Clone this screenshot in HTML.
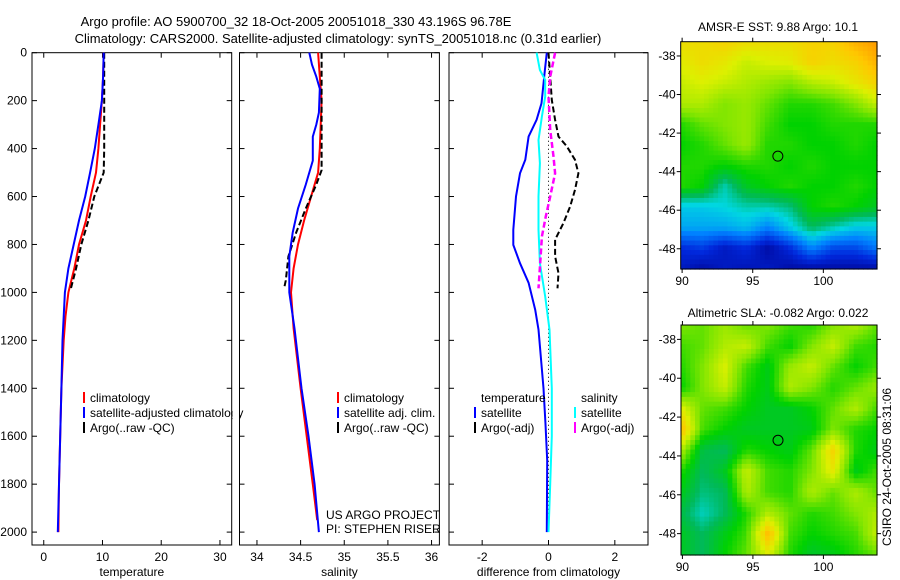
<!DOCTYPE html>
<html><head><meta charset="utf-8">
<style>
body{margin:0;background:#fff;}
svg{display:block;font-family:"Liberation Sans",sans-serif;}
text{font-size:12px;fill:#000;}
</style></head>
<body>
<svg id="c" width="900" height="580" viewBox="0 0 900 580" xmlns="http://www.w3.org/2000/svg">
<text x="296" y="26" text-anchor="middle" style="font-size:13px">Argo profile: AO 5900700_32 18-Oct-2005 20051018_330 43.196S 96.78E</text>
<text x="338" y="43" text-anchor="middle" style="font-size:13px">Climatology: CARS2000. Satellite-adjusted climatology: synTS_20051018.nc (0.31d earlier)</text>
<text x="778" y="31" text-anchor="middle">AMSR-E SST: 9.88 Argo: 10.1</text>
<text x="778" y="317" text-anchor="middle">Altimetric SLA: -0.082 Argo: 0.022</text>
<text transform="translate(891,467) rotate(-90)" text-anchor="middle">CSIRO 24-Oct-2005 08:31:06</text>
<text x="326" y="519">US ARGO PROJECT</text>
<text x="326" y="533">PI: STEPHEN RISER</text>
<g id="g"></g>
</svg>
<script>
// ---- data ----
const depthTicks=[0,200,400,600,800,1000,1200,1400,1600,1800,2000];
const tempTicks=[0,10,20,30];
const salTicks=[34,34.5,35,35.5,36];
const salTickLabels=["34","34.5","35","35.5","36"];
const diffTicks=[-2,0,2];
const tempClimDepth=[0,100,200,300,400,500,600,700,800,900,1000,1100,1200,1400,1600,1800,2000];
const tempClim=[10.2,10.1,9.9,9.6,9.3,8.9,8.0,7.2,6.0,5.2,4.2,3.7,3.4,3.0,2.8,2.6,2.5];
const tempSatDepth=[0,100,200,300,400,500,600,700,800,900,1000,1100,1200,1400,1600,1800,2000];
const tempSat=[10.2,10.1,9.9,9.3,8.7,7.9,7.05,6.0,5.1,4.2,3.6,3.4,3.2,3.0,2.8,2.6,2.4];
const tempArgoDepth=[0,100,200,300,400,500,600,700,800,900,985];
const tempArgo=[10.3,10.3,10.3,10.3,10.3,10.2,8.6,7.6,6.4,5.5,4.6];
const salClimDepth=[0,100,200,400,500,600,700,800,900,1000,1150,1400,1600,1800,1950];
const salClim=[34.70,34.72,34.74,34.72,34.70,34.62,34.54,34.47,34.42,34.39,34.42,34.50,34.57,34.64,34.69];
const salSatDepth=[0,50,100,150,250,300,350,450,550,650,750,850,1000,1150,1400,1600,1800,2000];
const salSat=[34.60,34.63,34.68,34.72,34.71,34.68,34.64,34.64,34.56,34.47,34.41,34.37,34.37,34.43,34.51,34.59,34.66,34.71];
const salArgoDepth=[0,300,490,550,650,750,850,950,985];
const salArgo=[34.74,34.74,34.74,34.68,34.56,34.45,34.36,34.33,34.31];
const dTempSatDepth=[0,72,211,280,350,447,503,600,739,802,878,960,1072,1155,1400,1550,1700,2000];
const dTempSat=[-0.05,-0.11,-0.21,-0.36,-0.6,-0.7,-0.86,-0.98,-1.06,-1.06,-0.86,-0.6,-0.4,-0.3,-0.15,-0.09,-0.04,-0.05];
const dTempArgoDepth=[0,100,197,280,350,390,447,503,572,642,711,780,850,920,983];
const dTempArgo=[0,0.05,0.1,0.2,0.3,0.55,0.8,0.9,0.8,0.65,0.45,0.2,0.2,0.3,0.27];
const dSalSatDepth=[0,72,114,183,266,364,461,600,739,878,1017,1155,1400,1600,1800,2000];
const dSalSat=[-0.36,-0.26,-0.1,-0.1,-0.2,-0.3,-0.26,-0.3,-0.3,-0.26,-0.1,0.03,0.1,0.1,0.05,0];
const dSalArgoDepth=[0,100,183,322,433,503,600,683,767,878,983];
const dSalArgo=[0.2,0.05,0,0.05,0.15,0.2,0.05,-0.08,-0.2,-0.25,-0.3];
const lonTicks=[90,95,100];
const latTicks=[-38,-40,-42,-44,-46,-48];
const sstGrid=[
[.78,.78,.8,.78,.78,.78,.8,.8,.85,.88],
[.75,.78,.76,.72,.74,.75,.8,.78,.8,.85],
[.72,.74,.72,.7,.68,.66,.7,.72,.76,.8],
[.7,.7,.66,.68,.64,.6,.6,.62,.66,.72],
[.6,.64,.66,.68,.62,.58,.58,.6,.6,.6],
[.58,.6,.64,.68,.6,.6,.58,.58,.6,.58],
[.6,.6,.58,.6,.6,.58,.6,.58,.58,.58],
[.6,.58,.45,.55,.58,.6,.58,.58,.6,.58],
[.4,.4,.42,.45,.45,.48,.58,.6,.58,.55],
[.35,.35,.35,.38,.3,.4,.5,.45,.4,.4],
[.15,.18,.1,.15,.05,.15,.3,.2,.2,.28],
[.1,.05,.1,.08,.1,.05,.05,.05,.05,.05]];
const slaGrid=[
[.66,.64,.68,.64,.66,.62,.6,.66,.7,.64],
[.62,.64,.7,.72,.62,.58,.66,.72,.62,.6],
[.6,.66,.74,.62,.56,.68,.72,.64,.58,.62],
[.58,.66,.72,.6,.56,.7,.66,.6,.64,.68],
[.75,.64,.62,.58,.55,.55,.58,.64,.7,.62],
[.84,.62,.58,.55,.55,.55,.56,.66,.6,.58],
[.7,.52,.5,.6,.58,.56,.64,.8,.6,.56],
[.6,.5,.55,.72,.62,.6,.66,.76,.56,.62],
[.56,.48,.5,.7,.62,.6,.7,.64,.7,.64],
[.52,.44,.5,.6,.7,.64,.6,.62,.66,.7],
[.55,.5,.56,.62,.84,.62,.58,.6,.62,.72],
[.55,.5,.58,.64,.74,.6,.54,.56,.6,.64]];

const NS="http://www.w3.org/2000/svg";
const G=document.getElementById('g');
function mk(t,a,p){const e=document.createElementNS(NS,t);for(const k in a)e.setAttribute(k,a[k]);(p||G).appendChild(e);return e;}
const yD=d=>52.7+d*0.2397;
function lin(d0,d1,r0,r1){return v=>r0+(v-d0)/(d1-d0)*(r1-r0);}

function panel(name,x0,x1,dom,ticks,labels,xlabel){
  const sx=lin(dom[0],dom[1],x0,x1);
  const r=mk('rect',{x:x0,y:52.7,width:x1-x0,height:545-52.7,fill:'none',stroke:'#000','stroke-width':1});
  
  ticks.forEach((t,i)=>{const x=sx(t);
    mk('line',{x1:x,x2:x,y1:545,y2:540,stroke:'#000'});mk('line',{x1:x,x2:x,y1:52.7,y2:57.7,stroke:'#000'});
    const tx=mk('text',{x:x,y:561,'text-anchor':'middle'});tx.textContent=labels[i];
    });
  depthTicks.forEach(d=>{const y=yD(d);
    mk('line',{x1:x0,x2:x0+5,y1:y,y2:y,stroke:'#000'});mk('line',{x1:x1,x2:x1-5,y1:y,y2:y,stroke:'#000'});});
  const xl=mk('text',{x:(x0+x1)/2,y:576,'text-anchor':'middle'});xl.textContent=xlabel;
  
  return sx;
}
function line(sx,ds,vs,col,dash,w,name){
  const pts=ds.map((d,i)=>sx(vs[i]).toFixed(1)+','+yD(d).toFixed(1)).join(' ');
  const p=mk('polyline',{points:pts,fill:'none',stroke:col,'stroke-width':w||2,'stroke-dasharray':dash||'none'});
  
}
depthTicks.forEach(d=>{const t=mk('text',{x:27,y:yD(d)+4,'text-anchor':'end'});t.textContent=d;
  });

const s1=panel('temperature-panel',32,231.7,[-2,32],tempTicks,tempTicks.map(String),'temperature');
line(s1,tempClimDepth,tempClim,'#f00',null,2,'temp-climatology-line');
line(s1,tempArgoDepth,tempArgo,'#000','6,3',2,'temp-argo-line');
line(s1,tempSatDepth,tempSat,'#00f',null,2,'temp-satellite-line');

const s2=panel('salinity-panel',239.5,439.4,[33.8,36.09],salTicks,salTickLabels,'salinity');
line(s2,salClimDepth,salClim,'#f00',null,2,'sal-climatology-line');
line(s2,salArgoDepth,salArgo,'#000','6,3',2,'sal-argo-line');
line(s2,salSatDepth,salSat,'#00f',null,2,'sal-satellite-line');

const s3=panel('difference-panel',449,648,[-3,3],diffTicks,diffTicks.map(String),'difference from climatology');
mk('line',{x1:s3(0),x2:s3(0),y1:yD(0),y2:yD(2000),stroke:'#000','stroke-width':1,'stroke-dasharray':'1,3'});
line(s3,dTempSatDepth,dTempSat,'#00f',null,2,'diff-temp-satellite-line');
line(s3,dTempArgoDepth,dTempArgo,'#000','6,3',2,'diff-temp-argo-line');
line(s3,dSalSatDepth,dSalSat,'#0ff',null,2,'diff-sal-satellite-line');
line(s3,dSalArgoDepth,dSalArgo,'#f0f','6,3',2.5,'diff-sal-argo-line');

function legend(x,y,items,name){
  items.forEach((it,i)=>{const yy=y+i*15;
    if(it[1]){mk('line',{x1:x,x2:x,y1:yy-10,y2:yy+1,stroke:it[1],'stroke-width':2});}
    const t=mk('text',{x:x+6,y:yy});t.textContent=it[0];
    });
}
legend(84,402,[['climatology','#f00'],['satellite-adjusted climatology','#00f'],['Argo(..raw -QC)','#000']],'temp-legend');
legend(338,402,[['climatology','#f00'],['satellite adj. clim.','#00f'],['Argo(..raw -QC)','#000']],'sal-legend');
legend(475,402,[['temperature',null],['satellite','#00f'],['Argo(-adj)','#000']],'diff-temp-legend');
legend(575,402,[['salinity',null],['satellite','#0ff'],['Argo(-adj)','#f0f']],'diff-sal-legend');
mk('rect',{x:232.5,y:400,width:6.5,height:20,fill:'#fff'});

// custom colormap stops (navy → blue → cyan → green → yellow → orange)
const CM=[[0,[0,0,140]],[0.15,[0,40,220]],[0.3,[0,130,255]],[0.42,[0,215,225]],[0.5,[0,185,90]],[0.58,[0,210,0]],[0.66,[130,230,0]],[0.74,[220,240,0]],[0.82,[255,200,0]],[0.9,[255,140,0]],[1,[255,80,0]]];
function cmap(v){v=Math.max(0,Math.min(1,v));
  for(let i=1;i<CM.length;i++){if(v<=CM[i][0]){const a=CM[i-1],b=CM[i],f=(v-a[0])/(b[0]-a[0]);
    return 'rgb('+a[1].map((c,k)=>Math.round(c+(b[1][k]-c)*f)).join(',')+')';}}
  return 'rgb(255,80,0)';}
function sample(grid,u,v){const R=grid.length-1,C=grid[0].length-1;const y=v*R,x=u*C;
  const i=Math.min(R-1,Math.floor(y)),j=Math.min(C-1,Math.floor(x)),fy=y-i,fx=x-j;
  return grid[i][j]*(1-fx)*(1-fy)+grid[i][j+1]*fx*(1-fy)+grid[i+1][j]*(1-fx)*fy+grid[i+1][j+1]*fx*fy;}
function map(name,grid,x0,x1,y0,y1,latTop,latBot){
  const sx=lin(89.9,103.8,x0,x1),sy=lin(latTop,latBot,y0,y1);
  const g=mk('g',{});
  const nx=42,ny=48,cw=(x1-x0)/nx,ch=(y1-y0)/ny;
  for(let i=0;i<ny;i++)for(let j=0;j<nx;j++){
    mk('rect',{x:(x0+j*cw).toFixed(2),y:(y0+i*ch).toFixed(2),width:(cw+0.6).toFixed(2),height:(ch+0.6).toFixed(2),fill:cmap(sample(grid,(j+.5)/nx,(i+.5)/ny))},g);}
  mk('rect',{x:x0,y:y0,width:x1-x0,height:y1-y0,fill:'none',stroke:'#000'});
  lonTicks.forEach(l=>{const x=sx(l);mk('line',{x1:x,x2:x,y1:y1,y2:y1+4,stroke:'#000'});mk('line',{x1:x,x2:x,y1:y0,y2:y0-4,stroke:'#000'});
    const t=mk('text',{x:x,y:y1+16,'text-anchor':'middle'});t.textContent=l;
    });
  latTicks.forEach(l=>{const y=sy(l);mk('line',{x1:x0,x2:x0-4,y1:y,y2:y,stroke:'#000'});mk('line',{x1:x1,x2:x1+4,y1:y,y2:y,stroke:'#000'});
    const t=mk('text',{x:x0-5,y:y+4,'text-anchor':'end'});t.textContent=l;
    });
  const c=mk('circle',{cx:sx(96.78),cy:sy(-43.196),r:5,fill:'none',stroke:'#000','stroke-width':1});
  
}
map('sst-map',sstGrid,680.7,877,41.7,269,-37.26,-49.05);
map('sla-map',slaGrid,681,877,325,555,-37.26,-49.1);
</script>
</body></html>
